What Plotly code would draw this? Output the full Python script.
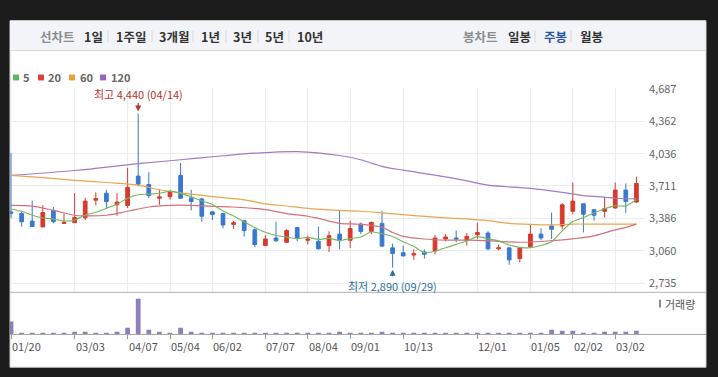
import plotly.graph_objects as go

W, H = 718, 377

# ---------------- data ----------------
week_idx = list(range(60))
opens  = [3450,3434,3358,3299,3466,3335,3342,3391,3568,3638,3522,3516,3811,3726,3588,3604,3818,3591,3581,3451,
          3434,3325,3362,3270,3112,3188,3145,3293,3165,3155,3112,3227,3165,3328,3253,3335,3089,3040,3017,3047,
          3057,3178,3188,3165,3220,3237,3079,3089,2981,3099,3227,3309,3309,3457,3532,3473,3457,3490,3670,3549]
highs  = [4044,3451,3565,3516,3500,3434,3638,3591,3647,3673,3638,3894,4440,3850,3673,3673,3943,3673,3591,3460,
          3440,3358,3362,3286,3220,3352,3276,3300,3214,3303,3254,3460,3362,3345,3352,3460,3132,3112,3073,3073,
          3220,3230,3263,3237,3342,3254,3122,3089,3096,3328,3286,3444,3539,3746,3532,3473,3604,3746,3736,3805]
lows   = [3385,3303,3303,3299,3335,3328,3342,3368,3516,3483,3411,3490,3706,3588,3522,3575,3581,3466,3352,3368,
          3286,3279,3204,3096,3106,3148,3138,3155,3122,3073,3047,3073,3089,3227,3227,3106,2890,3007,2968,2981,
          3024,3155,3145,3112,3178,3063,3066,2919,2942,3089,3165,3178,3276,3427,3244,3362,3394,3483,3441,3539]
closes = [3438,3352,3303,3444,3352,3345,3394,3559,3584,3555,3549,3697,3729,3614,3601,3653,3588,3555,3407,3424,
          3319,3342,3263,3122,3178,3161,3263,3188,3178,3079,3211,3161,3283,3253,3345,3106,3033,3007,3030,3024,
          3188,3198,3178,3204,3243,3079,3089,2968,3089,3227,3188,3276,3522,3559,3427,3417,3483,3670,3555,3736]
volumes = [1270,100,100,100,100,100,230,230,100,100,230,630,3600,430,230,100,630,230,100,100,
           100,100,100,100,50,130,50,50,50,130,50,230,130,50,100,230,100,50,100,50,
           100,50,100,100,100,100,50,100,50,100,100,430,330,330,100,50,230,230,230,330]

# moving averages
ma5 = [3480,3457,3417,3391,3378,3359,3368,3419,3447,3487,3528,3589,3623,3629,3638,3659,3637,3602,3561,3525,
       3459,3409,3351,3294,3245,3213,3197,3182,3194,3174,3184,3163,3182,3197,3251,3230,3204,3149,3104,3040,
       3056,3089,3124,3158,3202,3180,3159,3117,3094,3090,3112,3150,3260,3354,3394,3440,3482,3511,3510,3572]
ma20_idx = [0,2,4,6,7,9,11,13,15,17,19,21,24,26,28,29,31,33,35,36,37,39,41,44,46,48,51,53,55,57,58,59]
ma20_val = [3516,3508,3466,3417,3411,3417,3457,3500,3516,3516,3506,3500,3473,3434,3407,3385,3335,3326,3295,
            3244,3204,3178,3167,3165,3155,3145,3161,3180,3210,3270,3295,3328]
ma60_idx = [0,3,6,9,12,14,16,19,22,24,26,28,31,33,35,38,41,42,45,47,49,51,53,55,59]
ma60_val = [3818,3795,3768,3746,3719,3673,3641,3604,3572,3532,3510,3486,3466,3457,3441,3414,3391,3385,3362,
            3335,3326,3319,3328,3328,3328]
ma120_idx = [0,6,12,16,20,23,27,31,33,35,37,40,43,45,49,52,54,56,57,59]
ma120_val = [3818,3867,3936,3975,4015,4041,4057,4018,3975,3909,3870,3820,3762,3719,3687,3647,3614,3598,3588,3581]

tick_idx = [0,6,11,15,19,24,28,32,37,44,49,53,57]
tick_labels = ["01/20","03/03","04/07","05/04","06/02","07/07","08/04","09/01","10/13","12/01","01/05","02/02","03/02"]
price_ticks = [2735,3060,3386,3711,4036,4362,4687]

high_i, high_v, high_txt = 12, 4440, "최고 4,440 (04/14)"
low_i, low_v, low_txt = 36, 2890, "최저 2,890 (09/29)"

ma_names = ["5","20","60","120"]
header_left = ["선차트","1일","1주일","3개월","1년","3년","5년","10년"]
header_right = ["봉차트","일봉","주봉","월봉"]

# ---------------- styles ----------------
UP, DOWN = "#d8392c", "#3a78cf"
C5, C20, C60, C120 = "#74b95c", "#d4707a", "#eaa550", "#a07cc6"
LEG = ["#5cb85c", "#d9403a", "#f0a030", "#9466c0"]
VOLC = "#8d7fba"
KR = "Noto Sans CJK KR, Noto Sans, sans-serif"

def px(x): return x / W
def py(y): return 1 - y / H

fig = go.Figure()
fig.add_trace(go.Candlestick(
    x=week_idx, open=opens, high=highs, low=lows, close=closes,
    increasing=dict(line=dict(color=UP, width=1), fillcolor=UP),
    decreasing=dict(line=dict(color=DOWN, width=1), fillcolor=DOWN),
    whiskerwidth=0, hoverinfo="skip", showlegend=False, xaxis="x", yaxis="y"))
fig.add_trace(go.Scatter(x=ma120_idx, y=ma120_val, mode="lines", line=dict(color=C120, width=1.2, shape="spline"),
                         showlegend=False, hoverinfo="skip"))
fig.add_trace(go.Scatter(x=ma60_idx, y=ma60_val, mode="lines", line=dict(color=C60, width=1.2, shape="spline"),
                         showlegend=False, hoverinfo="skip"))
fig.add_trace(go.Scatter(x=ma20_idx, y=ma20_val, mode="lines", line=dict(color=C20, width=1.2, shape="spline"),
                         showlegend=False, hoverinfo="skip"))
fig.add_trace(go.Scatter(x=week_idx, y=ma5, mode="lines", line=dict(color=C5, width=1.1, shape="spline", smoothing=0.6),
                         showlegend=False, hoverinfo="skip"))
fig.add_trace(go.Bar(x=week_idx, y=volumes, width=0.45, marker=dict(color=VOLC, line=dict(width=0)),
                     xaxis="x2", yaxis="y2", showlegend=False, hoverinfo="skip"))

xr = [(10 - 11) / 10.6, (645 - 11) / 10.6]
xdom = [px(10), px(645)]
fig.update_layout(
    width=W, height=H, margin=dict(l=0, r=0, t=0, b=0),
    paper_bgcolor="#1c1c1c", plot_bgcolor="rgba(0,0,0,0)",
    boxgap=0.5,
    xaxis=dict(domain=xdom, range=xr, anchor="y", tickvals=tick_idx, showticklabels=False,
               showgrid=True, gridcolor="#ececec", gridwidth=1, zeroline=False, showline=False,
               ticks="", rangeslider=dict(visible=False), fixedrange=True),
    xaxis2=dict(domain=xdom, range=xr, anchor="y2", matches="x", tickvals=tick_idx, showticklabels=False,
                showgrid=False, zeroline=False, showline=False, ticks="outside", ticklen=4,
                tickcolor="#9a9a9a", tickwidth=1),
    yaxis=dict(domain=[py(290), py(82)], range=[2646.4, 4694], side="right", anchor="x",
               tickvals=price_ticks, tickformat=",", showgrid=True, gridcolor="#ececec",
               zeroline=False, showline=False, ticks="", ticklabelstandoff=3,
               tickfont=dict(family=KR, size=11, color="#666666")),
    yaxis2=dict(domain=[py(333), py(290)], range=[0, max(volumes) * 43 / 36], anchor="x2",
                showticklabels=False, showgrid=False, zeroline=False, showline=False),
    font=dict(family=KR),
)

shapes = []
# white page & header
shapes.append(dict(type="rect", xref="paper", yref="paper", x0=px(10), x1=px(706), y0=py(367), y1=py(13),
                   fillcolor="white", line=dict(width=1, color="#cfcfcf"), layer="below"))
shapes.append(dict(type="rect", xref="paper", yref="paper", x0=px(10), x1=px(705), y0=py(43), y1=py(13),
                   fillcolor="#f2f4f7", line=dict(width=0), layer="below"))
shapes.append(dict(type="line", xref="paper", yref="paper", x0=px(10), x1=px(705), y0=py(43.5), y1=py(43.5),
                   line=dict(color="#d4d6da", width=1), layer="below"))
# panel borders
shapes.append(dict(type="line", xref="paper", yref="paper", x0=px(10), x1=px(706), y0=py(290.5), y1=py(290.5),
                   line=dict(color="#b4b4b4", width=1)))
shapes.append(dict(type="line", xref="paper", yref="paper", x0=px(10), x1=px(706), y0=py(333.5), y1=py(333.5),
                   line=dict(color="#a2a2a2", width=1)))
# header separators
for sx in [108, 152, 193, 226, 258, 289, 535, 571]:
    shapes.append(dict(type="line", xref="paper", yref="paper", x0=px(sx), x1=px(sx), y0=py(35), y1=py(23),
                       line=dict(color="#d6d8dc", width=1)))
# legend squares
for cx, col in zip([13, 38, 69, 100], LEG):
    shapes.append(dict(type="rect", xref="paper", yref="paper", x0=px(cx), x1=px(cx + 6), y0=py(74), y1=py(68),
                       fillcolor=col, line=dict(width=0)))
# volume legend mark
shapes.append(dict(type="rect", xref="paper", yref="paper", x0=px(659), x1=px(661), y0=py(306), y1=py(298),
                   fillcolor="#8a8a8a", line=dict(width=0)))
fig.update_layout(shapes=shapes)

ann = []
def txt(x, y, s, size=12, color="#333", bold=False, anchor="left"):
    ann.append(dict(xref="paper", yref="paper", x=px(x), y=py(y), text=s, showarrow=False,
                    xanchor=anchor, yanchor="middle",
                    font=dict(family=KR, size=size, color=color, weight="bold" if bold else "normal")))

# header
hl_x = [39, 83, 115, 158, 200, 232, 264, 296]
for i, (x, s) in enumerate(zip(hl_x, header_left)):
    txt(x - 1, 29, s, size=12.5, color="#8a8c90" if i == 0 else "#333333", bold=True)
hr_x = [462, 507, 543, 579]
hr_c = ["#8a8c90", "#333333", "#2a56a6", "#333333"]
for x, s, c in zip(hr_x, header_right, hr_c):
    txt(x - 1, 29, s, size=12.5, color=c, bold=True)

# MA legend
for x, s in zip([21, 46, 78, 109], ma_names):
    txt(x, 71, s, size=11, color="#666666", bold=True)

# volume label
txt(663, 302, "거래량", size=11, color="#555555")

# date labels
for i, s in zip(tick_idx, tick_labels):
    ann.append(dict(xref="x2", yref="paper", x=i, y=py(345), text=s, showarrow=False, xanchor="left",
                    yanchor="middle", xshift=-1, font=dict(family=KR, size=11, color="#555555")))

# high / low markers
ann.append(dict(xref="x", yref="y", x=high_i, y=high_v, text=high_txt, showarrow=True, ax=0, ay=-20,
                arrowhead=2, arrowsize=1, arrowwidth=1.2, arrowcolor="#b8322a", standoff=2,
                font=dict(family=KR, size=11, color="#b8322a")))
ann.append(dict(xref="x", yref="y", x=low_i, y=low_v, text=low_txt, showarrow=True, ax=0, ay=18,
                arrowhead=2, arrowsize=1, arrowwidth=1.2, arrowcolor="#2c6f9e", standoff=2,
                font=dict(family=KR, size=11, color="#2c6f9e")))
fig.update_layout(annotations=ann)

fig.write_html(
    "out.html",
    config={"responsive": False, "displayModeBar": False},
    post_script="document.body.style.margin='0';document.body.style.padding='0';"
                "document.body.style.overflow='hidden';document.body.style.background='#1c1c1c';",
)
